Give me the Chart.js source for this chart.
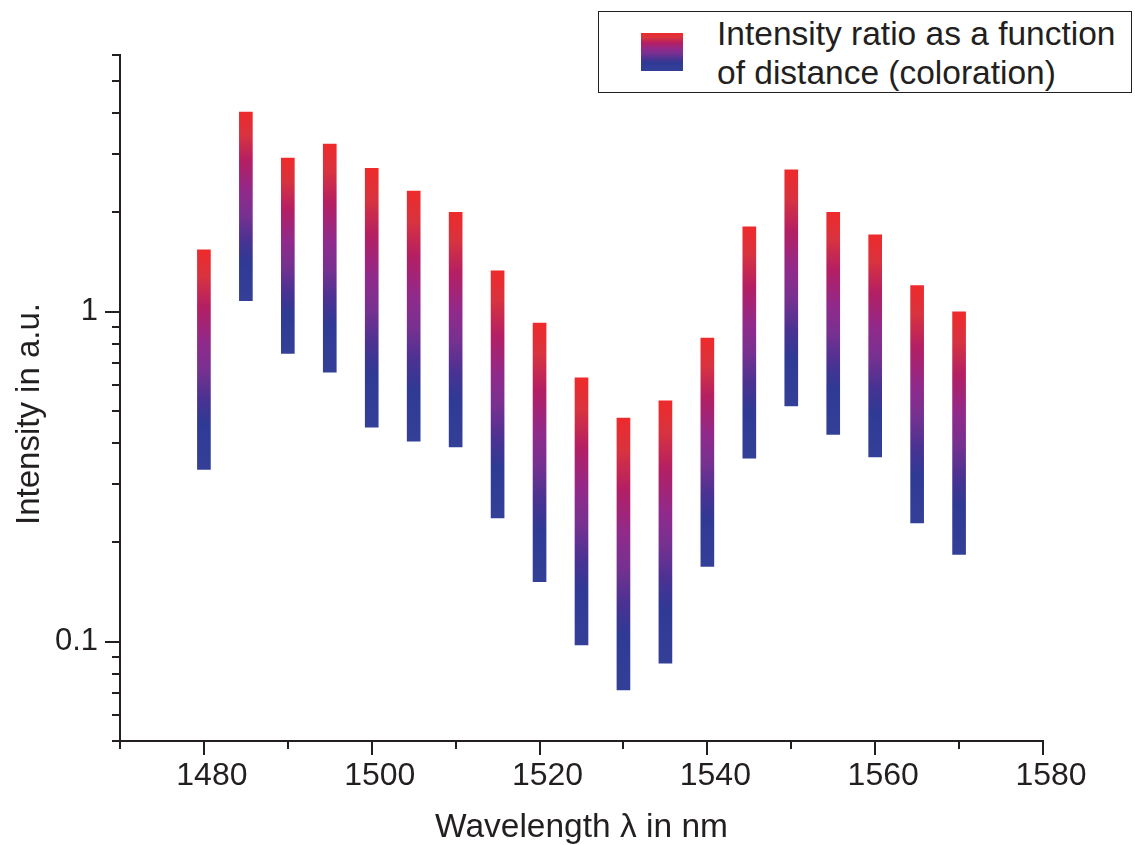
<!DOCTYPE html>
<html>
<head>
<meta charset="utf-8">
<script src="https://cdn.jsdelivr.net/npm/chart.js@4/dist/chart.umd.min.js"></script>
<style>
  html, body { margin: 0; padding: 0; background: #ffffff; }
  #wrap { position: relative; width: 1135px; height: 845px; }
  #legend {
    position: absolute; left: 598px; top: 11px; width: 532px; height: 80px;
    border: 1.6px solid #231f20; background: #ffffff;
    font-family: "Liberation Sans", Arial, sans-serif; font-size: 33.5px; color: #231f20;
  }
  #legend .swatch {
    position: absolute; left: 42px; top: 21px; width: 42px; height: 38px;
    filter: blur(0.7px);
  }
  #legend .text { position: absolute; left: 118px; top: 2px; line-height: 39px; white-space: nowrap; }
</style>
</head>
<body>
<div id="wrap">
  <canvas id="c" width="1135" height="845"></canvas>
  <div id="legend"><div class="swatch"></div><div class="text">Intensity ratio as a function<br>of distance (coloration)</div></div>
</div>
<script>
// Measured wavelengths (nm) and the intensity span at each one (a.u.)
const wavelengths = [1480, 1485, 1490, 1495, 1500, 1505, 1510, 1515, 1520, 1525,
                     1530, 1535, 1540, 1545, 1550, 1555, 1560, 1565, 1570];
const intensityLow  = [0.333, 1.08, 0.748, 0.656, 0.447, 0.405, 0.389, 0.237, 0.152, 0.0977,
                       0.0714, 0.0861, 0.169, 0.36, 0.518, 0.425, 0.363, 0.229, 0.184];
const intensityHigh = [1.54, 4.03, 2.92, 3.22, 2.72, 2.32, 2.0, 1.33, 0.924, 0.63,
                       0.476, 0.537, 0.832, 1.81, 2.69, 2.0, 1.71, 1.2, 1.0];

// Axis ticks
const xTickValues = [1470, 1480, 1490, 1500, 1510, 1520, 1530, 1540, 1550, 1560, 1570, 1580];
const xTickLabels = ['', '1480', '', '1500', '', '1520', '', '1540', '', '1560', '', '1580'];
const yTickValues = [0.05, 0.06, 0.07, 0.08, 0.09, 0.1, 0.2, 0.3, 0.4, 0.5, 0.6, 0.7, 0.8, 0.9,
                     1, 2, 3, 4, 5, 6];
const yTickLabels = ['', '', '', '', '', '0.1', '', '', '', '', '', '', '', '',
                     '1', '', '', '', '', ''];

const INK = '#231f20';
const FONT = '"Liberation Sans", Arial, sans-serif';

// Red (top) to blue (bottom) colouring of each span
const gradientStops = [
  [0.00, '#ee2a2b'],
  [0.12, '#d8333f'],
  [0.26, '#b41f63'],
  [0.42, '#912a8b'],
  [0.55, '#763190'],
  [0.68, '#4a3292'],
  [0.80, '#2e3a94'],
  [1.00, '#344097']
];

document.querySelector('#legend .swatch').style.background =
  'linear-gradient(to bottom, ' + gradientStops.map(s => s[1] + ' ' + (s[0] * 100) + '%').join(', ') + ')';

function spanGradient(ctx) {
  const chart = ctx.chart;
  const ys = chart.scales && chart.scales.y;
  if (ctx.type !== 'data' || !ys || !chart.chartArea) return '#7a2f8e';
  const raw = ctx.raw;
  const top = ys.getPixelForValue(raw.y[1]);
  const bottom = ys.getPixelForValue(raw.y[0]);
  if (!isFinite(top) || !isFinite(bottom) || top === bottom) return '#7a2f8e';
  const g = chart.ctx.createLinearGradient(0, top, 0, bottom);
  gradientStops.forEach(s => g.addColorStop(s[0], s[1]));
  return g;
}

// Outward tick marks (long at labelled values, short elsewhere) and the vertical axis title
const axisDecor = {
  id: 'axisDecor',
  afterDraw(chart) {
    const c = chart.ctx;
    const xs = chart.scales.x, ys = chart.scales.y;
    const area = chart.chartArea;
    c.save();
    c.strokeStyle = INK;
    c.lineWidth = 2;
    c.beginPath();
    xTickValues.forEach((v, i) => {
      const px = Math.round(xs.getPixelForValue(v));
      const len = xTickLabels[i] ? 14 : 8;
      c.moveTo(px, area.bottom);
      c.lineTo(px, area.bottom + len);
    });
    yTickValues.forEach((v, i) => {
      const py = Math.round(ys.getPixelForValue(v));
      const len = yTickLabels[i] ? 15 : 8;
      c.moveTo(area.left, py);
      c.lineTo(area.left - len, py);
    });
    c.stroke();

    c.fillStyle = INK;
    c.font = '33px ' + FONT;
    c.textAlign = 'center';
    c.textBaseline = 'middle';
    c.translate(30, 414);
    c.rotate(-Math.PI / 2);
    c.fillText('Intensity in a.u.', 0, 0);
    c.restore();
  }
};

new Chart(document.getElementById('c'), {
  type: 'bar',
  data: {
    datasets: [{
      label: 'Intensity ratio as a function of distance (coloration)',
      data: wavelengths.map((w, i) => ({ x: w, y: [intensityLow[i], intensityHigh[i]] })),
      backgroundColor: spanGradient,
      borderWidth: 0,
      barThickness: 13
    }]
  },
  options: {
    responsive: false,
    animation: false,
    layout: { padding: { top: 55, right: 92, left: 0, bottom: 0 } },
    plugins: { legend: { display: false }, tooltip: { enabled: false } },
    scales: {
      x: {
        type: 'linear',
        min: 1470, max: 1580,
        offset: false,
        grid: { display: false, offset: false },
        border: { display: true, color: INK, width: 2 },
        afterBuildTicks: s => { s.ticks = xTickValues.map(v => ({ value: v })); },
        afterFit: s => { s.height = 104; },
        ticks: {
          autoSkip: false, maxRotation: 0, minRotation: 0,
          padding: 8, labelOffset: 8,
          color: INK, font: { family: FONT, size: 32 },
          callback: v => xTickLabels[xTickValues.indexOf(v)] || ''
        },
        title: {
          display: true, text: 'Wavelength λ in nm', color: INK,
          font: { family: FONT, size: 33.5 }, padding: { top: 0, bottom: -3 }
        }
      },
      y: {
        type: 'logarithmic',
        min: 0.05, max: 6,
        grid: { display: false },
        border: { display: true, color: INK, width: 2 },
        afterBuildTicks: s => { s.ticks = yTickValues.map(v => ({ value: v })); },
        afterFit: s => { s.width = 120; },
        ticks: {
          autoSkip: false,
          padding: 14,
          color: INK, font: { family: FONT, size: 31 },
          callback: v => yTickLabels[yTickValues.indexOf(v)] || ''
        }
      }
    }
  },
  plugins: [axisDecor]
});
</script>
</body>
</html>
